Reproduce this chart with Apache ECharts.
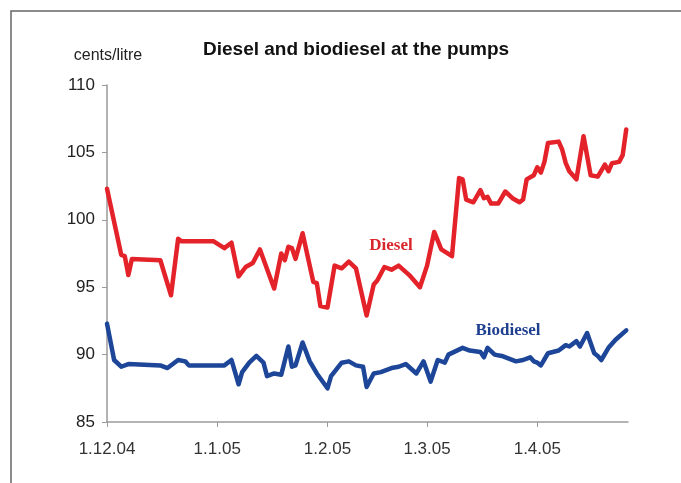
<!DOCTYPE html>
<html>
<head>
<meta charset="utf-8">
<script src="https://cdn.jsdelivr.net/npm/echarts@6/dist/echarts.min.js"></script>
<style>
html,body{margin:0;padding:0;background:#fff;}
#c{width:681px;height:483px;}
</style>
</head>
<body>
<div id="c"></div>
<script>
// ---- DATA ----
const dieselDates = [
 '2004-12-01','2004-12-05','2004-12-06','2004-12-07','2004-12-08','2004-12-16','2004-12-19','2004-12-21','2004-12-22','2004-12-31',
 '2005-01-03','2005-01-05','2005-01-07','2005-01-09','2005-01-11','2005-01-13','2005-01-17','2005-01-19','2005-01-20','2005-01-21',
 '2005-01-22','2005-01-23','2005-01-25','2005-01-28','2005-01-29','2005-01-30','2005-02-01','2005-02-03','2005-02-05','2005-02-07',
 '2005-02-09','2005-02-12','2005-02-14','2005-02-15','2005-02-17','2005-02-19','2005-02-21','2005-02-24','2005-02-27','2005-03-01',
 '2005-03-03','2005-03-05','2005-03-08','2005-03-10','2005-03-11','2005-03-12','2005-03-14','2005-03-16','2005-03-17','2005-03-18',
 '2005-03-19','2005-03-21','2005-03-23','2005-03-25','2005-03-27','2005-03-28','2005-03-29','2005-03-31','2005-04-01','2005-04-02',
 '2005-04-03','2005-04-04','2005-04-07','2005-04-08','2005-04-09','2005-04-10','2005-04-12','2005-04-14','2005-04-16','2005-04-18',
 '2005-04-20','2005-04-21','2005-04-22','2005-04-24','2005-04-25','2005-04-26'
];
const dieselValues = [
 102.3,97.4,97.3,95.9,97.1,97.0,94.4,98.6,98.4,98.4,
 97.9,98.3,95.8,96.5,96.8,97.8,94.9,97.5,97.0,98.0,
 97.9,97.1,99.0,95.4,95.3,93.6,93.5,96.6,96.4,96.9,
 96.4,92.9,95.2,95.5,96.5,96.3,96.6,95.9,95.0,96.6,
 99.1,97.8,97.3,103.1,103.0,101.5,101.3,102.2,101.6,101.7,
 101.2,101.2,102.1,101.6,101.3,101.5,103.0,103.3,103.9,103.5,
 104.3,105.7,105.8,105.2,104.2,103.6,103.0,106.2,103.3,103.2,
 104.1,103.6,104.2,104.3,104.8,106.7
];
const biodieselDates = [
 '2004-12-01','2004-12-03','2004-12-05','2004-12-07','2004-12-16','2004-12-18','2004-12-21','2004-12-23','2004-12-24',
 '2005-01-03','2005-01-05','2005-01-07','2005-01-08','2005-01-10','2005-01-12','2005-01-14','2005-01-15','2005-01-17','2005-01-19',
 '2005-01-21','2005-01-22','2005-01-23','2005-01-25','2005-01-27','2005-01-29','2005-02-01','2005-02-02','2005-02-05','2005-02-07',
 '2005-02-09','2005-02-11','2005-02-12','2005-02-14','2005-02-16','2005-02-19','2005-02-21','2005-02-23','2005-02-26','2005-02-28',
 '2005-03-02','2005-03-04','2005-03-06','2005-03-07','2005-03-11','2005-03-13','2005-03-16','2005-03-17','2005-03-18','2005-03-20',
 '2005-03-22','2005-03-24','2005-03-26','2005-03-28','2005-03-30','2005-03-31','2005-04-01','2005-04-02','2005-04-04','2005-04-07',
 '2005-04-09','2005-04-10','2005-04-12','2005-04-13','2005-04-15','2005-04-17','2005-04-18','2005-04-19','2005-04-21','2005-04-23',
 '2005-04-26'
];
const biodieselValues = [
 92.3,89.6,89.1,89.3,89.2,89.0,89.6,89.5,89.2,
 89.2,89.6,87.8,88.7,89.4,89.9,89.4,88.4,88.6,88.5,
 90.6,89.1,89.2,90.9,89.5,88.6,87.5,88.4,89.4,89.5,
 89.2,89.1,87.6,88.6,88.7,89.0,89.1,89.3,88.6,89.5,
 88.0,89.6,89.4,90.0,90.5,90.3,90.2,89.8,90.5,90.0,
 89.9,89.7,89.5,89.6,89.8,89.5,89.4,89.2,90.1,90.3,
 90.7,90.6,91.0,90.6,91.6,90.1,89.9,89.6,90.5,91.1,
 91.8
];
const tickDates = ['2004-12-01','2005-01-01','2005-02-01','2005-03-01','2005-04-01'];
const tickLabels = ['1.12.04','1.1.05','1.2.05','1.3.05','1.4.05'];
const axisStart = '2004-12-01';
const axisEnd = '2005-04-26 12:00';
const yMin = 85, yMax = 110, yStep = 5;

// ---- CHART ----
const parse = s => +echarts.time.parse(s);
const tickVals = tickDates.map(parse);
const chart = echarts.init(document.getElementById('c'), null, {renderer:'canvas'});
const font = "'Liberation Sans', Arial, sans-serif";

chart.setOption({
  backgroundColor: '#ffffff',
  animation: false,
  title: {
    text: 'Diesel and biodiesel at the pumps',
    left: 198, top: 35,
    textStyle: {fontFamily: font, fontSize: 19, fontWeight: 'bold', color: '#111'}
  },
  grid: {left: 107, right: 53, top: 85, bottom: 61, containLabel: false},
  xAxis: {
    type: 'time',
    min: parse(axisStart),
    max: parse(axisEnd),
    splitNumber: 5,
    axisLine: {lineStyle: {color: '#9a9a9a', width: 1.5}},
    axisTick: {show: true, length: 5, lineStyle: {color: '#9a9a9a'}},
    axisLabel: {
      margin: 19,
      showMaxLabel: false,
      hideOverlap: false,
      fontFamily: font, fontSize: 17, color: '#333',
      formatter: v => { const i = tickVals.indexOf(+v); return i >= 0 ? tickLabels[i] : ''; }
    },
    splitLine: {show: false}
  },
  yAxis: {
    type: 'value',
    min: yMin, max: yMax, interval: yStep,
    axisLine: {show: true, lineStyle: {color: '#9a9a9a', width: 1.5}},
    axisTick: {show: true, length: 5, lineStyle: {color: '#9a9a9a'}},
    axisLabel: {fontFamily: font, fontSize: 17, color: '#222', margin: 12},
    splitLine: {show: false}
  },
  series: [
    {
      name: 'Diesel', type: 'line', showSymbol: false,
      data: dieselDates.map((d, i) => [d, dieselValues[i]]),
      lineStyle: {color: '#e3222a', width: 4.5, join: 'round', cap: 'round'},
      itemStyle: {color: '#e3222a'}
    },
    {
      name: 'Biodiesel', type: 'line', showSymbol: false,
      data: biodieselDates.map((d, i) => [d, biodieselValues[i]]),
      lineStyle: {color: '#1d4699', width: 4.5, join: 'round', cap: 'round'},
      itemStyle: {color: '#1d4699'}
    }
  ],
  graphic: [
    {type: 'rect', silent: true, z: -1,
     shape: {x: 11, y: 11, width: 720, height: 520},
     style: {fill: 'none', stroke: '#666', lineWidth: 1.5}},
    {type: 'text', x: 108, y: 56,
     style: {text: 'cents/litre', fontFamily: font, fontSize: 16, fill: '#222', align: 'center', verticalAlign: 'middle'}},
    {type: 'text', x: 391, y: 246,
     style: {text: 'Diesel', fontFamily: "'Liberation Serif', serif", fontSize: 17, fontWeight: 'bold', fill: '#d8262b', align: 'center', verticalAlign: 'middle'}},
    {type: 'text', x: 508, y: 331,
     style: {text: 'Biodiesel', fontFamily: "'Liberation Serif', serif", fontSize: 17, fontWeight: 'bold', fill: '#1f3f8f', align: 'center', verticalAlign: 'middle'}}
  ]
});
</script>
</body>
</html>
